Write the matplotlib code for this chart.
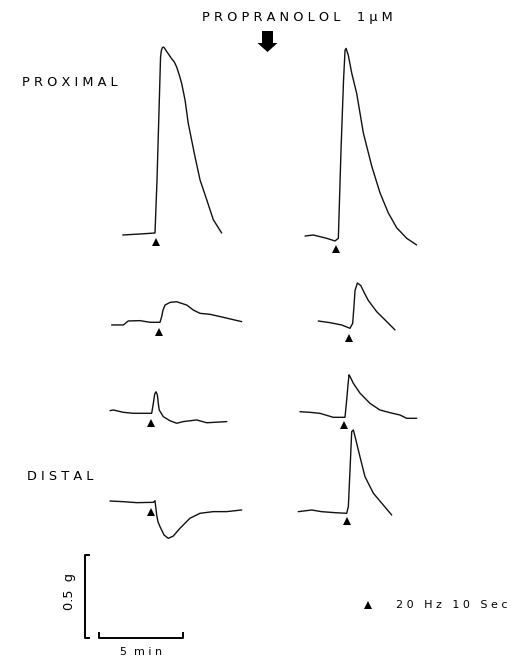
import matplotlib
matplotlib.use("Agg")
import matplotlib.pyplot as plt

# ---------------- data (time in min relative to stimulus, force in g relative to baseline)
t1 = [-1.92, -0.89, 0.0, 0.12, 0.24, 0.33, 0.38, 0.43, 0.49, 0.56, 0.65, 0.79, 0.99, 1.15, 1.29, 1.45, 1.59, 1.79, 1.98, 2.38, 2.68, 3.08, 3.47, 3.97]
f1 = [-0.012, -0.006, 0.0, 0.32, 0.74, 1.06, 1.10, 1.115, 1.12, 1.115, 1.10, 1.08, 1.05, 1.03, 1.00, 0.95, 0.90, 0.80, 0.66, 0.46, 0.32, 0.20, 0.08, 0.0]

t2 = [-1.96, -1.47, -0.67, -0.18, 0.02, 0.18, 0.33, 0.42, 0.48, 0.61, 0.82, 1.11, 1.51, 2.01, 2.50, 2.99, 3.49, 4.09, 4.68]
f2 = [0.0, 0.006, -0.014, -0.03, -0.014, 0.52, 0.94, 1.12, 1.13, 1.09, 0.98, 0.86, 0.62, 0.42, 0.26, 0.14, 0.05, -0.014, -0.054]

t3 = [-2.88, -2.18, -1.89, -1.19, -0.60, 0.0, 0.10, 0.18, 0.30, 0.60, 0.99, 1.59, 1.98, 2.38, 2.98, 3.77, 4.86]
f3 = [-0.016, -0.016, 0.008, 0.01, 0.0, 0.0, 0.034, 0.074, 0.104, 0.12, 0.124, 0.104, 0.074, 0.054, 0.048, 0.03, 0.004]

t4 = [-1.95, -1.25, -0.55, -0.06, 0.10, 0.18, 0.24, 0.38, 0.58, 0.77, 1.03, 1.53, 2.13, 2.62]
f4 = [0.006, -0.004, -0.018, -0.038, -0.008, 0.10, 0.19, 0.235, 0.22, 0.18, 0.13, 0.062, 0.002, -0.048]

t5 = [-2.5, -2.30, -1.71, -1.11, -0.02, 0.08, 0.16, 0.24, 0.32, 0.38, 0.43, 0.67, 1.07, 1.47, 1.86, 2.66, 3.26, 4.45]
f5 = [0.016, 0.02, 0.006, 0.0, 0.0, 0.06, 0.116, 0.13, 0.11, 0.056, 0.02, -0.02, -0.045, -0.06, -0.05, -0.04, -0.057, -0.05]

t6 = [-2.74, -2.14, -1.55, -0.76, -0.06, 0.04, 0.12, 0.18, 0.24, 0.43, 0.83, 1.43, 2.02, 2.62, 3.21, 3.61, 4.21]
f6 = [0.008, 0.004, -0.002, -0.026, -0.026, 0.078, 0.17, 0.23, 0.22, 0.18, 0.12, 0.058, 0.018, 0.002, -0.012, -0.032, -0.032]

t7 = [-2.68, -1.89, -1.09, -0.10, 0.0, 0.10, 0.18, 0.30, 0.54, 0.79, 1.09, 1.49, 2.08, 2.68, 3.47, 4.27, 5.16]
f7 = [0.006, 0.002, -0.004, -0.002, 0.008, -0.078, -0.12, -0.149, -0.199, -0.219, -0.205, -0.158, -0.098, -0.068, -0.058, -0.058, -0.048]

t8 = [-2.96, -2.16, -1.57, -0.77, -0.08, 0.02, 0.12, 0.22, 0.32, 0.42, 0.71, 1.01, 1.51, 2.10, 2.60]
f8 = [0.002, 0.012, 0.002, -0.004, -0.008, 0.032, 0.253, 0.484, 0.494, 0.454, 0.334, 0.213, 0.113, 0.042, -0.018]

stim_t = [0.06, -0.12, -0.04, -0.12, -0.06, -0.12, -0.26, -0.08]   # stimulus marks (min)

scale_min = 5      # min
scale_g = 0.5      # g

header_text = "P R O P R A N O L O L    1 μ M"
label_prox = "P R O X I M A L"
label_dist = "D I S T A L"
label_g = "0.5  g"
label_min = "5  m i n"
legend_text = "2 0   H z   1 0   S e c"

# ---------------- layout (pixels)
W, H = 529, 661
PX_PER_MIN = 84 / 5.0
PX_PER_G = 83 / 0.5
origins = [(155, 233), (338, 236), (160, 322.3), (351, 322), (152, 413.3), (346, 413), (155, 502), (348, 512)]
mark_dy = [8.7, 13, 9.4, 16, 10, 12, 9.7, 9]

fig = plt.figure(figsize=(W / 100, H / 100), dpi=100)
ax = fig.add_axes([0, 0, 1, 1])
ax.set_xlim(0, W)
ax.set_ylim(H, 0)
ax.axis("off")

col = "#111111"
traces = [(t1, f1), (t2, f2), (t3, f3), (t4, f4), (t5, f5), (t6, f6), (t7, f7), (t8, f8)]
for (ts, fs), (x0, y0), st, dy in zip(traces, origins, stim_t, mark_dy):
    xs = [x0 + t * PX_PER_MIN for t in ts]
    ys = [y0 - f * PX_PER_G for f in fs]
    ax.plot(xs, ys, color=col, lw=1.0, solid_joinstyle="round", solid_capstyle="round")
    ax.plot([x0 + st * PX_PER_MIN], [y0 + dy], marker="^", color="black", ms=6, mew=0)

# arrow
ax.fill([262, 273, 273, 277.5, 267.5, 257.5, 262], [31, 31, 43, 43, 52, 43, 43], color="black", lw=0)

# scale bars
vb = 638
vt = vb - scale_g * PX_PER_G
ax.plot([89, 85, 85, 89], [vt, vt, vb, vb], color="black", lw=1.4)
hx0, hy = 99, 638
hx1 = hx0 + scale_min * PX_PER_MIN
ax.plot([hx0, hx0, hx1, hx1], [hy - 5, hy, hy, hy - 5], color="black", lw=1.4)

fs_ = 9.3
ax.text(297, 17.5, header_text, ha="center", va="center", fontsize=fs_, color="black")
ax.text(70, 82, label_prox, ha="center", va="center", fontsize=fs_, color="black")
ax.text(60, 476, label_dist, ha="center", va="center", fontsize=fs_, color="black")
ax.text(69, 591, label_g, ha="center", va="center", rotation=90, fontsize=fs_, color="black")
ax.text(141, 652, label_min, ha="center", va="center", fontsize=8, color="black")
ax.plot([368], [605], marker="^", color="black", ms=5.5, mew=0)
ax.text(452, 605, legend_text, ha="center", va="center", fontsize=8, color="black")

fig.savefig("out.png", dpi=100, facecolor="white")
